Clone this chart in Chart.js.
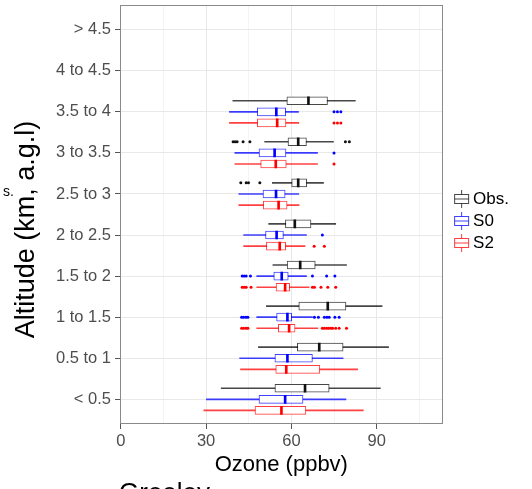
<!DOCTYPE html>
<html>
<head>
<meta charset="utf-8">
<script src="https://cdn.jsdelivr.net/npm/chart.js@4.4.1/dist/chart.umd.min.js"></script>
<style>
  html, body { margin: 0; padding: 0; background: #fff; overflow: hidden; }
  #wrap { position: relative; width: 532px; height: 489px; }
  .cut { position: absolute; font-family: 'Liberation Sans', Arial, sans-serif; color: #000; white-space: nowrap; line-height: 1; }
</style>
</head>
<body>
<div id="wrap">
  <canvas id="ozone" width="532" height="489"></canvas>
  <div class="cut" style="left:3px; top:184px; font-size:14px;">s.</div>
  <div class="cut" style="left:119px; top:479px; font-size:26px;">Greeley</div>
</div>
<script>
/* Ozone by altitude band, Obs. vs model runs S0 / S2 (horizontal boxplots) */

// altitude bands, top to bottom
const ALT_BANDS = ['> 4.5', '4 to 4.5', '3.5 to 4', '3 to 3.5', '2.5 to 3', '2 to 2.5', '1.5 to 2', '1 to 1.5', '0.5 to 1', '< 0.5'];
const X_TICKS   = [0, 30, 60, 90];

// ---- Obs. ----
const obsLow  = [null, null, 39.4, 50.6, 53.3, 52.0, 53.5, 51.2, 48.4, 35.3];
const obsQ1   = [null, null, 58.4, 58.8, 60.1, 57.9, 58.5, 62.6, 62.1, 54.2];
const obsMed  = [null, null, 66.0, 62.4, 62.4, 61.2, 63.1, 72.8, 69.8, 64.8];
const obsQ3   = [null, null, 72.7, 65.3, 65.4, 66.9, 68.4, 79.2, 78.2, 73.3];
const obsHigh = [null, null, 82.5, 74.8, 71.3, 75.6, 79.4, 91.9, 94.2, 91.3];
const obsOut  = [[], [], [], [39.5, 40.2, 40.9, 43.0, 45.4, 79.0, 80.4], [42.2, 44.1, 44.9, 48.9], [], [], [], [], []];

// ---- S0 ----
const s0Low  = [null, null, 38.2, 40.1, 41.5, 43.2, 47.8, 47.8, 41.8, 30.1];
const s0Q1   = [null, null, 48.0, 48.6, 50.0, 50.9, 53.8, 54.8, 54.2, 48.6];
const s0Med  = [null, null, 54.7, 54.1, 54.6, 54.8, 56.6, 58.6, 58.6, 57.8];
const s0Q3   = [null, null, 58.0, 58.1, 57.8, 57.2, 58.9, 60.1, 67.4, 64.1];
const s0High = [null, null, 62.5, 69.2, 62.6, 65.3, 65.3, 67.4, 78.2, 79.2];
const s0Out  = [[], [], [75.0, 76.2, 77.4], [75.0], [], [70.9],
                [42.7, 43.4, 44.1, 45.6, 67.4, 72.4, 75.3],
                [42.5, 43.2, 44.0, 44.7, 68.1, 69.5, 71.6, 72.5, 73.3, 75.3, 76.8], [], []];

// ---- S2 ----
const s2Low  = [null, null, 38.2, 40.1, 41.5, 43.2, 47.8, 47.8, 42.1, 29.2];
const s2Q1   = [null, null, 48.0, 49.2, 50.1, 51.2, 54.6, 55.4, 54.5, 47.2];
const s2Med  = [null, null, 55.0, 54.5, 55.5, 55.9, 57.8, 59.2, 58.2, 56.5];
const s2Q3   = [null, null, 58.1, 58.2, 58.5, 58.0, 59.4, 61.3, 70.0, 65.1];
const s2High = [null, null, 62.6, 69.2, 62.7, 64.8, 66.2, 69.3, 83.3, 85.3];
const s2Out  = [[], [], [75.0, 76.2, 77.4], [75.0], [], [68.0, 71.6],
                [42.7, 43.4, 44.1, 45.8, 67.4, 68.1, 70.4, 72.8, 75.6],
                [42.5, 43.2, 44.0, 44.7, 70.9, 71.6, 72.4, 73.1, 73.9, 74.5, 75.6, 76.8, 79.4], [], []];

const FONT = "'Liberation Sans', Arial, sans-serif";
const DODGE = 0.27;   // spacing of the three boxes inside one band (band units)

// legend key like ggplot's boxplot key
function keyGlyph(color) {
  const c = document.createElement('canvas');
  c.width = 32; c.height = 18;
  const g = c.getContext('2d');
  g.strokeStyle = color; g.lineWidth = 1;
  g.beginPath(); g.moveTo(21.5, 0); g.lineTo(21.5, 18); g.stroke();
  g.fillStyle = '#fff';
  g.fillRect(14.5, 4.5, 14, 9);
  g.strokeRect(14.5, 4.5, 14, 9);
  g.beginPath(); g.moveTo(14.5, 9); g.lineTo(28.5, 9); g.stroke();
  return c;
}

const SERIES = [
  { name: 'Obs.', color: '#111111', line: 'rgba(0,0,0,0.72)',   low: obsLow, q1: obsQ1, med: obsMed, q3: obsQ3, high: obsHigh, out: obsOut },
  { name: 'S0',   color: '#0000ff', line: 'rgba(0,0,255,0.75)', low: s0Low,  q1: s0Q1,  med: s0Med,  q3: s0Q3,  high: s0High,  out: s0Out },
  { name: 'S2',   color: '#ff0000', line: 'rgba(255,0,0,0.75)', low: s2Low,  q1: s2Q1,  med: s2Med,  q3: s2Q3,  high: s2High,  out: s2Out },
];

// floating bars at band index + dodge offset
function ranges(a, b, k) {
  const pts = [];
  a.forEach((v, i) => { if (v != null) pts.push({ x: [v, b[i]], y: i + (k - 1) * DODGE }); });
  return pts;
}

function boxDatasets(s, k) {
  const common = { yAxisID: 'y', grouped: false, categoryPercentage: 1, barPercentage: 1, borderSkipped: false };
  return {
    whisker: { ...common, label: s.name + ' whiskers', data: ranges(s.low, s.high, k), order: 3,
               backgroundColor: s.line, borderWidth: 0, maxBarThickness: 1 },
    box:     { ...common, label: s.name, data: ranges(s.q1, s.q3, k), order: 2,
               backgroundColor: '#ffffff', borderColor: s.line, borderWidth: 1, maxBarThickness: 8 },
    median:  { ...common, label: s.name + ' median',
               data: ranges(s.med.map(m => m == null ? null : m - 0.35), s.med.map(m => m == null ? null : m + 0.35), k),
               order: 1, backgroundColor: s.color, borderWidth: 0, maxBarThickness: 8 },
  };
}

function outlierDataset(s, k) {
  const pts = [];
  s.out.forEach((vals, i) => vals.forEach(v => pts.push({ x: v, y: i + (k - 1) * DODGE })));
  return { type: 'scatter', label: s.name + ' outliers', data: pts, yAxisID: 'y', order: 0,
           pointRadius: 1.5, pointHoverRadius: 1.5, backgroundColor: s.color, borderWidth: 0 };
}

SERIES.forEach(s => { s.glyph = keyGlyph(s.line); });
const parts = SERIES.map(boxDatasets);
const datasets = [
  ...parts.map(p => p.whisker),
  ...parts.map(p => p.box),
  ...parts.map(p => p.median),
  ...SERIES.map(outlierDataset),
];

const panelBorder = {
  id: 'panelBorder',
  afterDatasetsDraw(chart) {
    const { ctx, chartArea: a } = chart;
    ctx.save();
    ctx.strokeStyle = '#8a8a8a';
    ctx.lineWidth = 1;
    ctx.strokeRect(Math.round(a.left) + 0.5, Math.round(a.top) + 0.5, Math.round(a.width) - 1, Math.round(a.height) - 1);
    ctx.restore();
  }
};

new Chart(document.getElementById('ozone'), {
  type: 'bar',
  data: { datasets },
  options: {
    responsive: false,
    animation: false,
    indexAxis: 'y',
    layout: { padding: { top: 5, left: 0, bottom: 0, right: 13 } },
    plugins: {
      tooltip: { enabled: false },
      legend: {
        position: 'right',
        fullSize: false,
        title: { display: true, text: ' ', font: { size: 10, lineHeight: 1 }, padding: { top: 1.5, bottom: 1.5 } },
        labels: {
          usePointStyle: true,
          pointStyleWidth: 17,
          padding: 5,
          color: '#000',
          font: { family: FONT, size: 17 },
          generateLabels: () => SERIES.map((s, i) => ({
            text: s.name, pointStyle: s.glyph, fillStyle: s.color, strokeStyle: s.color,
            lineWidth: 0, hidden: false, datasetIndex: i, fontColor: '#000'
          })),
        },
      },
    },
    scales: {
      x: {
        type: 'linear',
        min: -0.3,
        max: 113.2,
        stacked: false,
        border: { display: false },
        grid: {
          color: c => X_TICKS.includes(c.tick.value) ? '#e8e8e8' : '#f4f4f4',
          tickColor: c => X_TICKS.includes(c.tick.value) ? '#555' : 'rgba(0,0,0,0)',
          tickLength: 5,
        },
        ticks: {
          stepSize: 15,
          includeBounds: false,
          autoSkip: false,
          maxRotation: 0,
          padding: 3,
          color: '#4d4d4d',
          font: { family: FONT, size: 16.5 },
          callback: v => X_TICKS.includes(v) ? String(v) : '',
        },
        title: { display: true, text: 'Ozone (ppbv)', color: '#000', font: { family: FONT, size: 22 }, padding: { top: 0, bottom: 11 } },
        afterFit: sc => { sc.height = 65; },
      },
      y: {
        type: 'linear',
        min: -0.6,
        max: ALT_BANDS.length - 0.4,
        reverse: true,
        offset: false,
        stacked: false,
        border: { display: false },
        grid: { offset: false, color: '#e8e8e8', tickColor: '#555', tickLength: 5 },
        afterBuildTicks: sc => { sc.ticks = ALT_BANDS.map((_, i) => ({ value: i })); },
        ticks: {
          autoSkip: false,
          padding: 4,
          color: '#4d4d4d',
          font: { family: FONT, size: 16.5 },
          callback: v => ALT_BANDS[v],
        },
        title: { display: true, text: 'Altitude (km, a.g.l)    ', color: '#000', font: { family: FONT, size: 27 }, padding: { top: 10, bottom: 0 } },
        afterFit: sc => { sc.width = 120; sc.paddingTop = 0; sc.paddingBottom = 0; },
      },
    },
  },
  plugins: [panelBorder],
});
</script>
</body>
</html>
